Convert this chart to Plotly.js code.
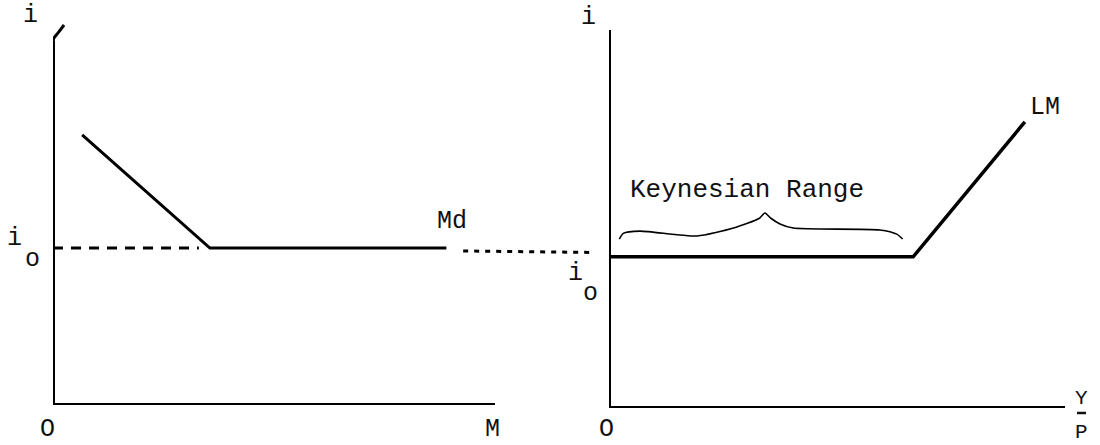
<!DOCTYPE html>
<html>
<head>
<meta charset="utf-8">
<script src="https://cdn.plot.ly/plotly-3.0.1.min.js"></script>
<style>html,body{margin:0;padding:0;background:#fff;}#chart{width:1100px;height:445px;}</style>
</head>
<body>
<div id="chart"></div>
<script>
// Left panel: money demand (Md) — axes M (x) and i (y)
const mdX = [0.66, 3.55, 8.9];
const mdY = [7.4, 4.3, 4.3];
const i0Left = 4.3;
const dashX = [0, 3.3];
const dottedX = [9.28, 12.2];
const dottedY = [4.22, 4.18];
const leftAxisTopX = [0, 0.02, 0.11, 0.25];
const leftAxisTopY = [9.95, 10.05, 10.19, 10.41];

// Right panel: LM curve — axes Y/P (x) and i (y)
const lmX = [0, 6.67, 9.12];
const lmY = [4.0, 4.0, 7.57];
const braceX = [0.226, 0.314, 0.68, 1.93, 2.73, 3.30, 3.42, 3.55, 3.75, 4.04, 5.94, 6.31, 6.44];
const braceY = [4.47, 4.62, 4.68, 4.55, 4.76, 5.02, 5.16, 5.02, 4.87, 4.76, 4.71, 4.60, 4.47];

const labels = {
  yLeft: 'i', xLeft: 'M', origin: 'O', md: 'Md',
  yRight: 'i', xRightTop: 'Y', xRightBottom: 'P', lm: 'LM',
  range: 'Keynesian Range', i0: 'i', i0sub: 'o'
};

const FAMILY = '"Liberation Mono", "DejaVu Sans Mono", monospace';
const FONT = {family: FAMILY, size: 25, color: '#111'};
const W = 1100, H = 445;
const px = v => v / W, py = v => 1 - v / H;

const traces = [
  {x: mdX, y: mdY, xaxis: 'x', yaxis: 'y', mode: 'lines', line: {color: '#000', width: 3}},
  {x: dashX, y: [i0Left, i0Left], xaxis: 'x', yaxis: 'y', mode: 'lines', line: {color: '#000', width: 3, dash: '10px,8px'}},
  {x: dottedX, y: dottedY, xaxis: 'x', yaxis: 'y', mode: 'lines', line: {color: '#000', width: 3, dash: '5px,6px'}},
  {x: leftAxisTopX, y: leftAxisTopY, xaxis: 'x', yaxis: 'y', mode: 'lines', line: {color: '#000', width: 3, shape: 'spline'}},
  {x: [0, 0], y: [0, 9.98], xaxis: 'x', yaxis: 'y', mode: 'lines', line: {color: '#000', width: 4}},
  {x: [0, 10], y: [0, 0], xaxis: 'x', yaxis: 'y', mode: 'lines', line: {color: '#000', width: 4}},
  {x: lmX, y: lmY, xaxis: 'x2', yaxis: 'y2', mode: 'lines', line: {color: '#000', width: 3.5}},
  {x: braceX, y: braceY, xaxis: 'x2', yaxis: 'y2', mode: 'lines', line: {color: '#000', width: 1.6, shape: 'spline', smoothing: 0.6}},
  {x: [0, 0], y: [0, 10], xaxis: 'x2', yaxis: 'y2', mode: 'lines', line: {color: '#000', width: 4}},
  {x: [0, 10], y: [0, 0], xaxis: 'x2', yaxis: 'y2', mode: 'lines', line: {color: '#000', width: 4}}
];

const hidden = {showgrid: false, zeroline: false, showline: false, showticklabels: false, ticks: '', fixedrange: true};

function ann(text, x, y, opts) {
  return Object.assign({text: text, x: px(x), y: py(y), xref: 'paper', yref: 'paper', showarrow: false,
          xanchor: 'center', yanchor: 'middle', font: FONT, borderpad: 0}, opts || {});
}

const layout = {
  width: W, height: H,
  margin: {l: 0, r: 0, t: 0, b: 0},
  paper_bgcolor: '#fff', plot_bgcolor: 'rgba(0,0,0,0)',
  showlegend: false,
  xaxis: Object.assign({domain: [53 / W, 600 / W], range: [0, 547 / 44.2]}, hidden),
  yaxis: Object.assign({domain: [40 / H, 425 / H], range: [0, 385 / 36.5]}, hidden),
  xaxis2: Object.assign({domain: [609 / W, 1065 / W], range: [0, 10], anchor: 'y2'}, hidden),
  yaxis2: Object.assign({domain: [37 / H, 415 / H], range: [0, 10], anchor: 'x2'}, hidden),
  shapes: [
    {type: 'line', xref: 'paper', yref: 'paper', x0: px(1077), x1: px(1086), y0: py(413), y1: py(413),
     line: {color: '#111', width: 2.5}}
  ],
  annotations: [
    ann(labels.yLeft, 30, 16),
    ann(labels.i0, 14, 238),
    ann(labels.i0sub, 32, 259),
    ann(labels.origin, 47, 445, {yanchor: 'bottom'}),
    ann(labels.xLeft, 492, 445, {yanchor: 'bottom'}),
    ann(labels.md, 452, 221),
    ann(labels.yRight, 588, 17),
    ann(labels.i0, 575, 273),
    ann(labels.i0sub, 590, 293),
    ann(labels.origin, 607, 445, {yanchor: 'bottom'}),
    ann(labels.lm, 1045, 108),
    ann(labels.range, 747, 190, {font: {family: FAMILY, size: 26, color: '#111'}}),
    ann(labels.xRightTop, 1081, 411, {yanchor: 'bottom', font: {family: FAMILY, size: 21, color: '#111'}}),
    ann(labels.xRightBottom, 1081, 445, {yanchor: 'bottom', font: {family: FAMILY, size: 21, color: '#111'}})
  ]
};

Plotly.newPlot('chart', traces, layout, {displayModeBar: false, staticPlot: true});
</script>
</body>
</html>
